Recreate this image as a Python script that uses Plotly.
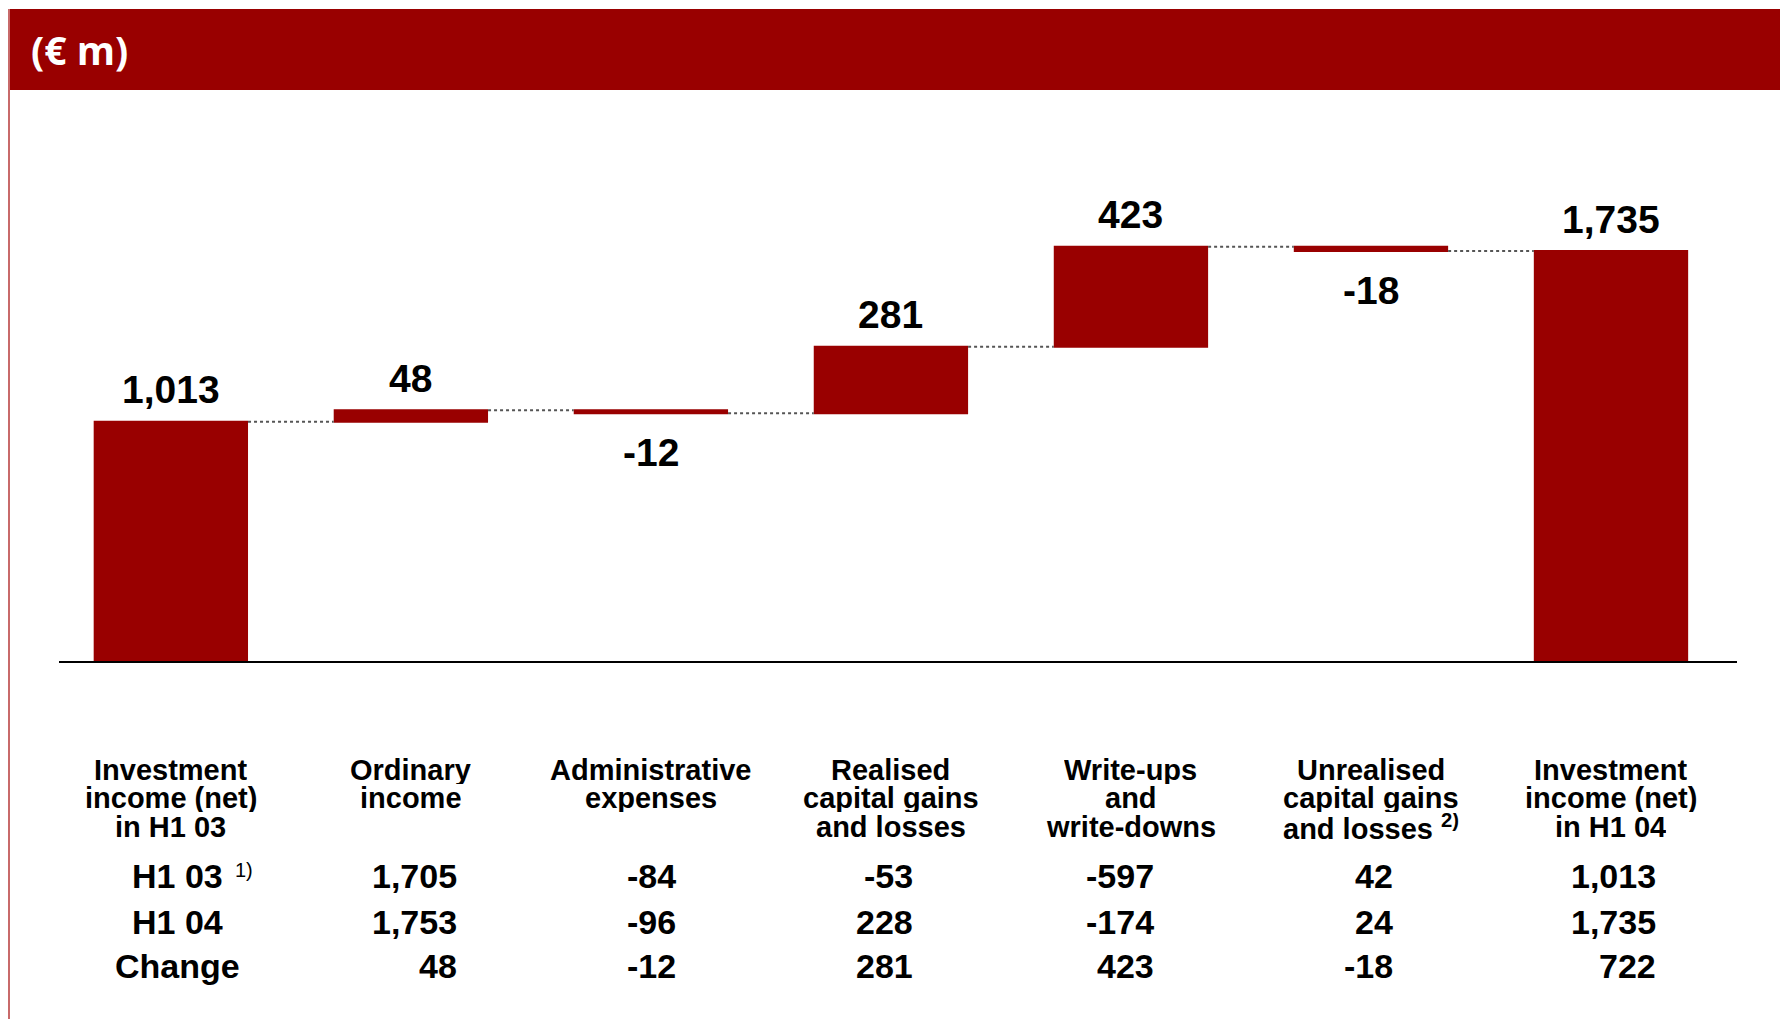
import plotly.graph_objects as go

# --- data -------------------------------------------------------------
cat_lines = [
    ["Investment", "income (net)", "in H1 03"],
    ["Ordinary", "income"],
    ["Administrative", "expenses"],
    ["Realised", "capital gains", "and losses"],
    ["Write-ups", "and", "write-downs"],
    ["Unrealised", "capital gains", "and losses <sup>2)</sup>"],
    ["Investment", "income (net)", "in H1 04"],
]
row_labels = ["H1 03", "H1 04", "Change"]
h1_03 = [1705, -84, -53, -597, 42, 1013]
h1_04 = [1753, -96, 228, -174, 24, 1735]
change = [48, -12, 281, 423, -18, 722]

start_value = h1_03[-1]          # investment income (net) H1 03
end_value = h1_04[-1]            # investment income (net) H1 04
steps = change[:-1]              # component changes

wf_values = [start_value] + steps + [end_value]
wf_measure = ["absolute"] + ["relative"] * len(steps) + ["total"]
xs = list(range(len(wf_values)))

# --- layout geometry (pixels) ------------------------------------------
W, H = 1780, 1019
L, R, T, B = 59, 43, 94, 358
PW, PH = W - L - R, H - T - B
RED = "#990000"
FONT = "Liberation Sans, Arial, Helvetica, sans-serif"


def py(pix):
    """pixel row -> paper y"""
    return (H - B - pix) / PH


def px(pix):
    """pixel column -> paper x"""
    return (pix - L) / PW


fig = go.Figure()
fig.add_trace(go.Waterfall(
    x=xs, y=wf_values, measure=wf_measure, width=0.643,
    textinfo="none",
    increasing=dict(marker=dict(color=RED)),
    decreasing=dict(marker=dict(color=RED)),
    totals=dict(marker=dict(color=RED)),
    connector=dict(mode="between", line=dict(color="#555555", width=2, dash="dot")),
    hoverinfo="skip", showlegend=False,
))

annotations = []

# value labels above rising bars, below falling bars
level = 0
for i, (v, m) in enumerate(zip(wf_values, wf_measure)):
    if m == "absolute":
        lo, hi = 0, v
        level = v
    elif m == "total":
        lo, hi = 0, level
    else:
        lo, hi = sorted([level, level + v])
        level += v
    if v >= 0:
        annotations.append(dict(x=i, y=hi, xref="x", yref="y", text=f"{v:,}",
                                yshift=32, yanchor="middle", showarrow=False,
                                font=dict(family=FONT, size=39, color="black", weight="bold")))
    else:
        annotations.append(dict(x=i, y=lo, xref="x", yref="y", text=f"{v:,}",
                                yshift=-39, yanchor="middle", showarrow=False,
                                font=dict(family=FONT, size=39, color="black", weight="bold")))

# category captions, one annotation per line for tight leading
line_rows = [769.7, 798.0, 826.5]
for i, lines in enumerate(cat_lines):
    for j, txt in enumerate(lines):
        annotations.append(dict(x=i, y=py(line_rows[j]), xref="x", yref="paper",
                                text=txt, showarrow=False, xanchor="center", yanchor="middle",
                                height=28, valign="middle",
                                font=dict(family=FONT, size=29, color="black", weight="bold")))

# table rows
table_rows = [876.4, 921.8, 966.1]
row_label_x = 177
right_offsets = [0.199, 0.111, 0.10, 0.104, 0.102, 0.194]
for r, (lab, vals) in enumerate(zip(row_labels, [h1_03, h1_04, change])):
    annotations.append(dict(x=px(row_label_x), y=py(table_rows[r]), xref="paper", yref="paper",
                            text=lab, showarrow=False, xanchor="center", yanchor="middle",
                            font=dict(family=FONT, size=34, color="black", weight="bold")))
    for c, v in enumerate(vals):
        annotations.append(dict(x=c + 1 + right_offsets[c], y=py(table_rows[r]),
                                xref="x", yref="paper", text=f"{v:,}", showarrow=False,
                                xanchor="right", yanchor="middle",
                                font=dict(family=FONT, size=34, color="black", weight="bold")))

# footnote marker next to the H1 03 row label
annotations.append(dict(x=px(233), y=py(870), xref="paper", yref="paper", text="1)",
                        showarrow=False, xanchor="left", yanchor="middle",
                        font=dict(family=FONT, size=20, color="black")))

# header title
annotations.append(dict(x=px(29), y=py(49), xref="paper", yref="paper", text="(€ m)",
                        showarrow=False, xanchor="left", yanchor="middle",
                        font=dict(family="Open Sans, sans-serif", size=39, color="white", weight="bold")))

shapes = [
    dict(type="rect", xref="paper", yref="paper", x0=px(9), x1=px(W + 5), y0=py(90), y1=py(9),
         fillcolor=RED, line=dict(width=0), layer="below"),
    dict(type="line", xref="paper", yref="paper", x0=px(9), x1=px(9), y0=py(9), y1=py(H + 5),
         line=dict(color="#c86a6a", width=2)),
]

fig.update_layout(
    width=W, height=H,
    margin=dict(l=L, r=R, t=T, b=B, pad=0),
    paper_bgcolor="white", plot_bgcolor="white",
    xaxis=dict(range=[-0.466, 6.525], showgrid=False, zeroline=False, showticklabels=False,
               ticks="", showline=True, linecolor="black", linewidth=2, fixedrange=True),
    yaxis=dict(range=[0, 2400], visible=False, fixedrange=True),
    annotations=annotations, shapes=shapes,
    showlegend=False,
)

fig.write_html("out.html", config={"displayModeBar": False})
